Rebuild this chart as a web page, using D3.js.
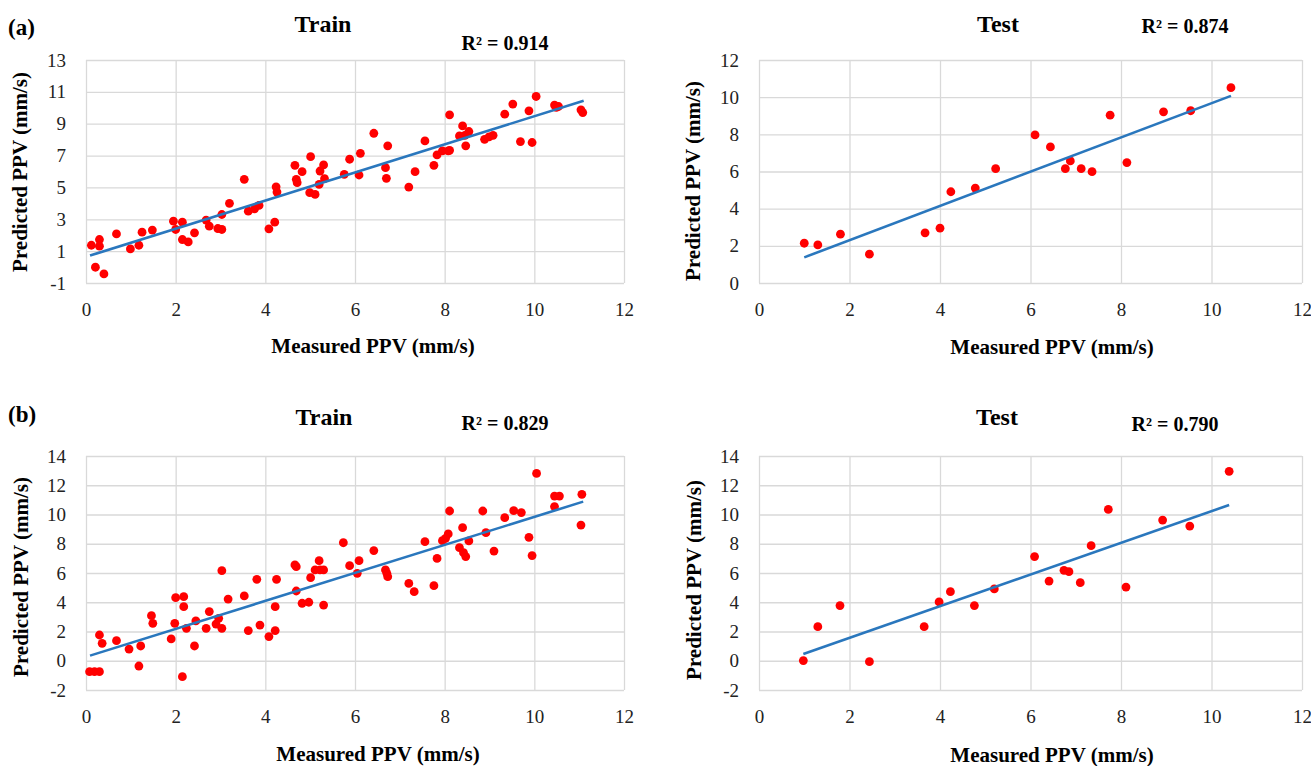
<!DOCTYPE html>
<html>
<head>
<meta charset="utf-8">
<script src="https://cdn.jsdelivr.net/npm/d3@7"></script>
<style>
  body { margin: 0; background: #fff; }
  svg { display: block; }
  text { font-family: "Liberation Serif", "Times New Roman", serif; }
</style>
</head>
<body>
<div id="chart"></div>
<script>
// measured vs predicted PPV (mm/s)
const trainA = [
  [0.12,1.37],[0.30,1.73],[0.30,1.31],[0.21,-0.01],[0.40,-0.43],[0.68,2.08],[0.99,1.14],
  [1.18,1.37],[1.25,2.19],[1.48,2.32],[1.95,2.88],[2.00,2.36],[2.15,2.82],[2.15,1.73],
  [2.28,1.58],[2.42,2.15],[2.68,2.95],[2.75,2.57],[2.94,2.42],[3.03,2.36],[3.03,3.30],
  [3.20,4.00],[3.53,5.51],[3.62,3.51],[3.76,3.66],[3.86,3.87],[4.08,2.40],[4.21,2.82],
  [4.24,5.04],[4.26,4.71],[4.66,6.39],[4.69,5.51],[4.71,5.30],[4.82,5.99],[5.01,6.93],
  [4.99,4.67],[5.11,4.56],[5.20,5.19],[5.22,6.03],[5.30,6.41],[5.32,5.55],[5.76,5.82],
  [5.88,6.77],[6.09,5.78],[6.12,7.14],[6.42,8.40],[6.68,6.24],[6.70,5.57],[6.73,7.61],
  [7.20,5.02],[7.34,5.99],[7.56,7.92],[7.76,6.39],[7.83,7.04],[7.95,7.29],[8.08,7.29],
  [8.11,9.56],[8.11,7.33],[8.33,8.23],[8.40,8.86],[8.45,8.27],[8.47,7.61],[8.54,8.51],
  [8.89,8.02],[8.99,8.17],[9.08,8.27],[9.34,9.60],[9.52,10.23],[9.69,7.88],[9.88,9.81],
  [9.95,7.82],[10.04,10.71],[10.45,10.17],[10.49,10.02],[10.54,10.08],[11.04,9.87],[11.08,9.70]
];
const testA = [
  [1.00,2.14],[1.30,2.05],[1.80,2.63],[2.44,1.55],[3.67,2.70],[4.00,2.95],[4.24,4.91],
  [4.78,5.11],[5.23,6.15],[6.10,7.97],[6.44,7.32],[6.77,6.15],[6.88,6.57],[7.12,6.15],
  [7.36,5.99],[7.76,9.03],[8.13,6.48],[8.94,9.21],[9.54,9.27],[10.43,10.51]
];
const trainB = [
  [0.08,-0.75],[0.19,-0.75],[0.30,-0.75],[0.30,1.76],[0.36,1.19],[0.68,1.37],[0.96,0.80],
  [1.22,1.01],[1.18,-0.36],[1.46,3.08],[1.49,2.56],[1.90,1.49],[1.98,2.56],[2.00,4.31],
  [2.18,4.38],[2.18,3.70],[2.15,-1.09],[2.24,2.22],[2.42,1.01],[2.45,2.72],[2.68,2.22],
  [2.75,3.36],[2.90,2.51],[2.96,2.90],[3.03,2.22],[3.03,6.16],[3.17,4.22],[3.53,4.43],
  [3.62,2.06],[3.81,5.57],[3.88,2.44],[4.08,1.65],[4.22,2.06],[4.22,3.70],[4.25,5.57],
  [4.66,6.55],[4.69,6.43],[4.69,4.77],[4.82,3.93],[4.97,4.00],[5.01,5.68],[5.11,6.21],
  [5.20,6.84],[5.22,6.21],[5.30,6.21],[5.30,3.81],[5.74,8.07],[5.88,6.50],[6.05,5.98],
  [6.09,6.84],[6.42,7.53],[6.68,6.21],[6.71,5.98],[6.73,5.75],[7.20,5.29],[7.32,4.72],
  [7.56,8.14],[7.76,5.13],[7.83,7.00],[7.95,8.21],[8.08,8.67],[8.11,10.24],[8.02,8.37],
  [8.33,7.73],[8.40,9.10],[8.42,7.39],[8.47,7.12],[8.54,8.19],[8.85,10.24],[8.92,8.76],
  [9.10,7.50],[9.34,9.78],[9.54,10.26],[9.71,10.13],[9.88,8.44],[9.95,7.19],[10.05,12.81],
  [10.45,11.26],[10.45,10.54],[10.56,11.26],[11.06,11.38],[11.04,9.28]
];
const testB = [
  [0.98,0.01],[1.30,2.33],[1.79,3.77],[2.44,-0.06],[3.65,2.33],[3.98,4.02],[4.23,4.72],
  [4.76,3.77],[5.20,4.91],[6.09,7.12],[6.41,5.45],[6.74,6.18],[6.85,6.09],[7.10,5.34],
  [7.34,7.87],[7.72,10.35],[8.11,5.04],[8.92,9.62],[9.52,9.21],[10.39,12.95]
];

// linear trend lines, end points
const trainALine = [[0.09,0.72],[11.1,10.44]];
const testALine  = [[1.0,1.38],[10.43,10.07]];
const trainBLine = [[0.09,0.35],[11.09,10.88]];
const testBLine  = [[0.98,0.46],[10.39,10.65]];

const r2Labels = ["R\u00b2 = 0.914", "R\u00b2 = 0.874", "R\u00b2 = 0.829", "R\u00b2 = 0.790"];
const titles = ["Train", "Test", "Train", "Test"];
const xTicks = [0, 2, 4, 6, 8, 10, 12];
const yTicksTrainA = [-1, 1, 3, 5, 7, 9, 11, 13];
const yTicksTestA = [0, 2, 4, 6, 8, 10, 12];
const yTicksB = [-2, 0, 2, 4, 6, 8, 10, 12, 14];

const width = 1311, height = 766;
const dotColor = "#ff0000",
      lineColor = "#2a77bd",
      gridColor = "#d9d9d9";
const serif = "Liberation Serif, Times New Roman, serif";

const svg = d3.select("#chart")
  .append("svg")
  .attr("width", width)
  .attr("height", height);

// geometry of each panel (pixels)
const panels = [
  {pts: trainA, line: trainALine, yTicks: yTicksTrainA, left: 86, right: 624, top: 60, bottom: 283,
   title: [323, 32], r2: [505, 50], xLab: [373, 353], yLab: [27, 172]},
  {pts: testA, line: testALine, yTicks: yTicksTestA, left: 759, right: 1302, top: 60, bottom: 283,
   title: [998, 32], r2: [1185, 33], xLab: [1052, 354], yLab: [700, 181]},
  {pts: trainB, line: trainBLine, yTicks: yTicksB, left: 86, right: 624, top: 456, bottom: 690,
   title: [324, 425], r2: [505, 430], xLab: [378, 761], yLab: [28, 577]},
  {pts: testB, line: testBLine, yTicks: yTicksB, left: 759, right: 1302, top: 456, bottom: 690,
   title: [997, 425], r2: [1175, 431], xLab: [1052, 762], yLab: [701, 580]}
];

panels.forEach((p, i) => {
  const x = d3.scaleLinear().domain([0, 12]).range([p.left, p.right]);
  const y = d3.scaleLinear().domain(d3.extent(p.yTicks)).range([p.bottom, p.top]);
  const g = svg.append("g");

  // gridlines + tick labels
  const gx = g.append("g")
    .attr("transform", `translate(0,${p.bottom})`)
    .call(d3.axisBottom(x).tickValues(xTicks).tickSize(-(p.bottom - p.top)).tickFormat(d => String(d)));
  gx.selectAll("text").attr("y", 33).attr("dy", null);

  const gy = g.append("g")
    .attr("transform", `translate(${p.left},0)`)
    .call(d3.axisLeft(y).tickValues(p.yTicks).tickSize(-(p.right - p.left)).tickPadding(20)
      .tickFormat(d => String(d)));

  [gx, gy].forEach(a => {
    a.attr("font-family", serif).attr("font-size", 19);
    a.select(".domain").remove();
    a.selectAll("line").attr("stroke", gridColor).attr("stroke-width", 1.3);
    a.selectAll("text").attr("fill", "#222");
  });

  // points
  g.append("g")
    .selectAll("circle")
    .data(p.pts)
    .join("circle")
    .attr("cx", d => x(d[0]))
    .attr("cy", d => y(d[1]))
    .attr("r", 4.4)
    .attr("fill", dotColor);

  // trend line
  g.append("path")
    .datum(p.line)
    .attr("fill", "none")
    .attr("stroke", lineColor)
    .attr("stroke-width", 2.6)
    .attr("d", d3.line().x(d => x(d[0])).y(d => y(d[1])));

  // titles and labels
  g.append("text")
    .attr("x", p.title[0]).attr("y", p.title[1])
    .attr("text-anchor", "middle")
    .style("font-size", "24px").style("font-weight", "bold")
    .text(titles[i]);

  g.append("text")
    .attr("x", p.r2[0]).attr("y", p.r2[1])
    .attr("text-anchor", "middle")
    .style("font-size", "20px").style("font-weight", "bold")
    .text(r2Labels[i]);

  g.append("text")
    .attr("x", p.xLab[0]).attr("y", p.xLab[1])
    .attr("text-anchor", "middle")
    .style("font-size", "21px").style("font-weight", "bold")
    .text("Measured PPV (mm/s)");

  g.append("text")
    .attr("transform", `translate(${p.yLab[0]},${p.yLab[1]}) rotate(-90)`)
    .attr("text-anchor", "middle")
    .style("font-size", "21px").style("font-weight", "bold")
    .text("Predicted PPV (mm/s)");
});

// panel letters
svg.append("text").attr("x", 8).attr("y", 35)
  .style("font-size", "23px").style("font-weight", "bold").text("(a)");
svg.append("text").attr("x", 8).attr("y", 422)
  .style("font-size", "23px").style("font-weight", "bold").text("(b)");
</script>
</body>
</html>
